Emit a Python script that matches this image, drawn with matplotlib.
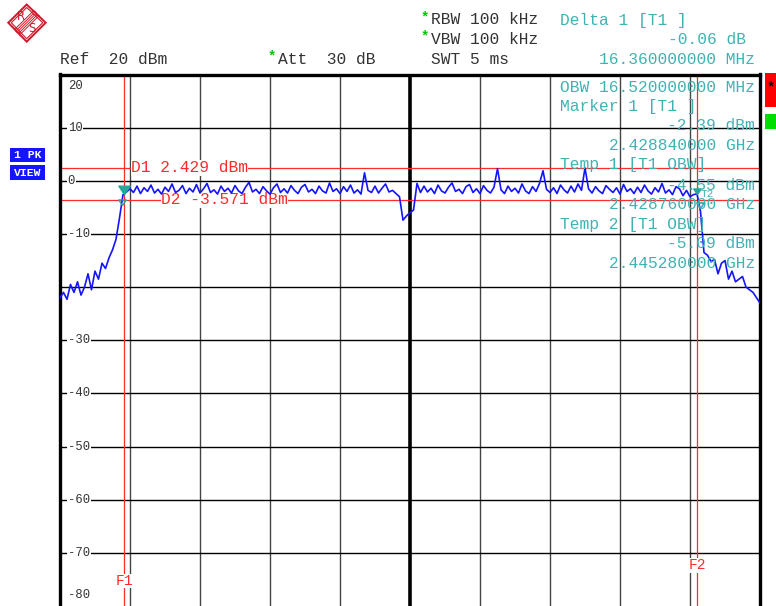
import matplotlib
matplotlib.use("Agg")
import matplotlib.pyplot as plt
import numpy as np
from matplotlib.patches import Rectangle, Polygon
from matplotlib.lines import Line2D
from matplotlib.transforms import blended_transform_factory

W, H = 776, 606
MONO = "Liberation Mono"

# ---- instrument settings -------------------------------------------------
start_mhz = 2427.0
span_mhz = 20.0
ref_dbm = 20.0
bottom_dbm = -80.0
freq_step_mhz = 0.1

# ---- measured trace (dBm), one value per 0.1 MHz ---------------------------
trace_dbm = [
    -22.0, -21.0, -22.3, -19.5, -21.0, -19.0, -21.5, -20.0, -17.5, -20.5,
    -17.0, -18.5, -15.5, -16.5, -14.5, -13.0, -11.0, -7.0, -2.6, -2.1,
    -1.5, -2.2, -1.0, -2.4, -1.3, -2.0, -0.8, -2.3, -1.6, -2.5,
    -1.2, -2.0, -0.6, -2.2, -1.8, -0.9, -2.4, -1.4, -2.1, -0.7,
    -2.3, -1.5, -0.5, -2.2, -1.7, -2.5, -1.0, -2.0, -1.4, -2.3,
    -0.9, -1.9, -2.4, -1.2, -0.3, -2.1, -1.6, -2.4, -1.1, -1.9,
    -2.5, -1.3, -0.6, -2.2, -1.5, -2.3, -0.9, -1.8, -2.4, -1.2,
    -0.7, -2.1, -1.6, -2.4, -1.0, -1.9, -2.3, -0.4, -2.0, -1.5,
    -2.4, -1.1, -2.0, -0.8, -2.3, -1.7, -2.5, 1.5, -1.8, -2.2,
    -1.0, -2.3, -1.4, -0.6, -2.1, -1.8, -2.4, -3.0, -7.4, -6.6,
    -6.0, -5.5, -0.5, -2.2, -1.0, -2.1, -1.4, -2.4, -0.8, -1.9,
    -2.3, -1.2, -0.4, -2.0, -1.6, -2.4, -1.1, -0.7, -2.2, -1.5,
    -2.4, -0.9, -1.8, -2.3, -1.2, 2.3, -1.7, -2.4, -1.0, -2.0,
    -1.4, -2.3, -0.6, -1.9, -2.4, -1.1, -2.0, -0.5, 1.9, -1.6,
    -2.2, -1.3, -2.4, -0.8, -1.7, -2.3, -1.0, -2.1, -0.6, -1.8,
    2.429, -1.5, -2.3, -1.1, -1.9, -2.4, -0.9, -1.6, -2.2, -1.3,
    -2.5, -0.7, -2.0, -1.5, -2.4, -1.2, -2.2, -0.8, -1.9, -2.5,
    -1.3, -2.1, -0.5, -2.3, -1.7, -2.6, -1.1, -1.5, -2.8, -1.8,
    -3.0, -2.6, -2.45, -5.75, -13.5, -14.0, -15.2, -14.8, -17.5, -15.5,
    -15.0, -18.5, -17.0, -19.0, -18.5, -18.0, -20.0, -20.5, -21.0, -22.0,
    -23.0,
]

# ---- markers and display lines --------------------------------------------
marker1_mhz, marker1_dbm = 2428.84, -2.39
delta1_offset_mhz, delta1_db = 16.36, -0.06
temp1_mhz, temp1_dbm = 2428.76, -4.55
temp2_mhz, temp2_dbm = 2445.28, -5.09
obw_mhz = 16.52
d1_dbm = 2.429
d2_dbm = -3.571

y_tick_values = [20, 10, 0, -10, -30, -40, -50, -60, -70, -80]

TEAL = "#3fb3b3"
RED = "#ff2a2a"
GREY = "#333333"
BLUE = "#1414ff"


def fxy(x, y):
    """pixel position -> figure fraction"""
    return x / W, 1 - y / H


fig = plt.figure(figsize=(W / 100, H / 100), dpi=100)
fig.patch.set_facecolor("white")

ax = fig.add_axes([60 / W, 0, 700 / W, (H - 74.5) / H])
ax.set_xlim(start_mhz, start_mhz + span_mhz)
ax.set_ylim(bottom_dbm, ref_dbm)
ax.set_xticks([])
ax.set_yticks([])
for side in ("left", "top", "right"):
    ax.spines[side].set_linewidth(2.4)
    ax.spines[side].set_color("black")
ax.spines["bottom"].set_visible(False)

# graticule
div_mhz = span_mhz / 10
for i in range(1, 10):
    f = start_mhz + i * div_mhz
    if i == 5:
        ax.axvline(f, color="black", lw=2.6, zorder=1)
    else:
        ax.axvline(f, color="#444444", lw=1.0, zorder=1)
for lvl in range(10, -80, -10):
    ax.axhline(lvl, color="black", lw=1.0, zorder=1)

# level labels inside the grid
ytr = blended_transform_factory(ax.transAxes, ax.transData)
for v in y_tick_values:
    ypos = v
    if v == 20:
        ypos = 17.8
    elif v == -80:
        ypos = -77.9
    ax.text(0.011, ypos, str(v), transform=ytr, fontsize=8.8, family=MONO,
            color=GREY, ha="left", va="center", zorder=1.5,
            bbox=dict(facecolor="white", edgecolor="none", pad=0.6))

# display lines D1 / D2
ax.axhline(d1_dbm, color=RED, lw=0.9, zorder=2)
ax.axhline(d2_dbm, color=RED, lw=0.9, zorder=2)
ax.text(start_mhz + (131 - 60) / 35, d1_dbm, f"D1 {d1_dbm:.3f} dBm",
        fontsize=11.7, family=MONO, color=RED, ha="left", va="center",
        zorder=2.5, bbox=dict(facecolor="white", edgecolor="none", pad=0.2))
ax.text(start_mhz + (161 - 60) / 35, d2_dbm, f"D2 {d2_dbm:.3f} dBm",
        fontsize=11.7, family=MONO, color=RED, ha="left", va="center",
        zorder=2.5, bbox=dict(facecolor="white", edgecolor="none", pad=0.2))

# frequency lines F1 / F2 at the marker positions
f1 = marker1_mhz
f2 = marker1_mhz + delta1_offset_mhz
ax.axvline(f1, color=RED, lw=0.9, zorder=2)
ax.axvline(f2, color=RED, lw=0.9, zorder=2)
ax.text(f1, -75.3, "F1", fontsize=10.5, family=MONO, color=RED, ha="center",
        va="center", zorder=2.5,
        bbox=dict(facecolor="white", edgecolor="none", pad=0.3))
ax.text(f2, -72.3, "F2", fontsize=10.5, family=MONO, color=RED, ha="center",
        va="center", zorder=2.5,
        bbox=dict(facecolor="white", edgecolor="none", pad=0.3))

# marker readout block (under the graticule)
right_x = 755
rows = [
    (87, f"OBW {obw_mhz:.9f} MHz", "left"),
    (106, "Marker 1 [T1 ]", "left"),
    (126, f"{marker1_dbm:.2f} dBm", "right"),
    (145, f"{marker1_mhz / 1000:.9f} GHz", "right"),
    (165, "Temp 1 [T1 OBW]", "left"),
    (185, f"{temp1_dbm:.2f} dBm", "right"),
    (204, f"{temp1_mhz / 1000:.9f} GHz", "right"),
    (224, "Temp 2 [T1 OBW]", "left"),
    (243, f"{temp2_dbm:.2f} dBm", "right"),
    (263, f"{temp2_mhz / 1000:.9f} GHz", "right"),
]
for y, s, ha in rows:
    x = 560 if ha == "left" else right_x
    fx, fy = fxy(x, y)
    fig.text(fx, fy, s, fontsize=11.7, family=MONO, color=TEAL, ha=ha,
             va="center", zorder=0.5)

# trace
freqs = start_mhz + freq_step_mhz * np.arange(len(trace_dbm))
ax.plot(freqs, trace_dbm, color=BLUE, lw=1.2, zorder=3)

# marker symbols (tip sits on the marker value)
tri = [(0, 0), (-0.75, 1.1), (0.75, 1.1), (0, 0)]
ax.plot([marker1_mhz], [marker1_dbm], marker=tri, ms=12, color="#2aa59c",
        zorder=4)
ax.plot([f2], [marker1_dbm + delta1_db], marker=tri, ms=8, color="#2aa59c",
        zorder=4)
ax.plot([temp1_mhz], [temp1_dbm], marker=tri, ms=8, color="#2aa59c",
        mfc="none", mew=1.0, zorder=4)
ax.plot([temp2_mhz], [temp2_dbm], marker=tri, ms=8, color="#2aa59c",
        mfc="none", mew=1.0, zorder=4)
ax.text(temp2_mhz + 0.02, -2.4, "T2", fontsize=8, family=MONO,
        color=TEAL, ha="left", va="center", zorder=4)

# ---- header ---------------------------------------------------------------
hdr = dict(fontsize=11.7, family=MONO, va="center")
fig.text(*fxy(60, 59), "Ref  20 dBm", color=GREY, ha="left", **hdr)
fig.text(*fxy(278, 59), "Att  30 dB", color=GREY, ha="left", **hdr)
fig.text(*fxy(431, 20), "RBW 100 kHz", color=GREY, ha="left", **hdr)
fig.text(*fxy(431, 39), "VBW 100 kHz", color=GREY, ha="left", **hdr)
fig.text(*fxy(431, 59), "SWT 5 ms", color=GREY, ha="left", **hdr)
for x, y in [(272, 56), (425, 17), (425, 36)]:
    fig.text(*fxy(x, y), "*", color="#00c800", ha="center", va="center",
             fontsize=10, family=MONO, fontweight="bold")
fig.text(*fxy(560, 20), "Delta 1 [T1 ]", color=TEAL, ha="left", **hdr)
fig.text(*fxy(746, 39), f"{delta1_db:.2f} dB", color=TEAL, ha="right", **hdr)
fig.text(*fxy(755, 59), f"{delta1_offset_mhz:.9f} MHz", color=TEAL,
         ha="right", **hdr)

# trace info badges
for (y0, y1, label) in [(148, 162, "1 PK"), (165, 180, "VIEW")]:
    fx0, fy1 = fxy(10, y1)
    fig.patches.append(Rectangle((fx0, fy1), 35 / W, (y1 - y0) / H,
                                 transform=fig.transFigure, facecolor=BLUE,
                                 edgecolor="none"))
    fig.text(*fxy(27.5, (y0 + y1) / 2), label, color="white", ha="center",
             va="center", fontsize=8.2, family=MONO, fontweight="bold")

# status boxes at the right edge
fx0, fy0 = fxy(765, 107)
fig.patches.append(Rectangle((fx0, fy0), 11 / W, 34 / H,
                             transform=fig.transFigure, facecolor="#ff0000",
                             edgecolor="none"))
fig.text(*fxy(771, 87), "*", color="black", ha="center", va="center",
         fontsize=10, family=MONO, fontweight="bold")
fx0, fy0 = fxy(765, 129)
fig.patches.append(Rectangle((fx0, fy0), 11 / W, 15 / H,
                             transform=fig.transFigure, facecolor="#00dd00",
                             edgecolor="none"))

# R&S logo
LOGO = "#cc1a2a"
outer = [(8.3, 22.7), (26.7, 4.5), (45.7, 22.7), (26.7, 41.7)]
inner = [(11.3, 22.7), (26.7, 7.5), (42.7, 22.7), (26.7, 38.7)]
for pts, lw in [(outer, 1.4), (inner, 0.8)]:
    fig.patches.append(Polygon([fxy(x, y) for x, y in pts], closed=True,
                               transform=fig.transFigure, facecolor="none",
                               edgecolor=LOGO, lw=lw))
for k in range(-2, 3):
    d = k * 1.3
    x0, y0 = 36.5 + d, 13.0 + d
    x1, y1 = 16.9 + d, 32.4 + d
    (a, b), (c, e) = fxy(x0, y0), fxy(x1, y1)
    fig.lines.append(Line2D([a, c], [b, e], transform=fig.transFigure,
                            color=LOGO, lw=0.7))
fig.text(*fxy(21, 17), "R", color=LOGO, ha="center", va="center",
         fontsize=8.5, family="DejaVu Sans")
fig.text(*fxy(31.5, 29), "S", color=LOGO, ha="center", va="center",
         fontsize=8.5, family="DejaVu Sans")

fig.savefig("out.png", dpi=100, facecolor="white")
